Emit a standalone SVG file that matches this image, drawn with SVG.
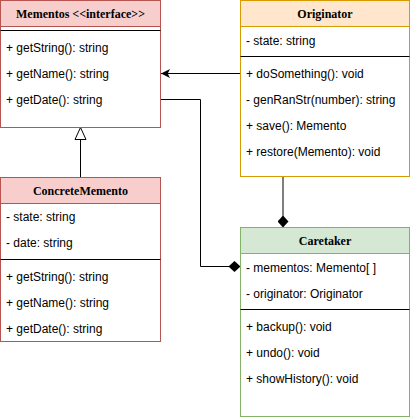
<svg xmlns="http://www.w3.org/2000/svg" width="411" height="418" viewBox="0 0 411 418">
<style>
.box{fill:#ffffff;}
.t{font-family:"Liberation Sans",Arial,sans-serif;font-size:12px;fill:#000000;}
.h{font-family:"Liberation Serif","Times New Roman",serif;font-size:12px;font-weight:bold;fill:#000000;text-anchor:middle;}
.sep{stroke:#000000;stroke-width:1;}
.red{stroke:#b85450;stroke-width:1;}
.org{stroke:#d79b00;stroke-width:1;}
.grn{stroke:#82b366;stroke-width:1;}
.c{fill:none;stroke:#000000;stroke-width:1;}
</style>
<defs>
<marker id="arrow" markerUnits="userSpaceOnUse" viewBox="0 0 10 10" refX="10" refY="5" markerWidth="10" markerHeight="9" orient="auto">
<path d="M0,0 L10,5 L0,10 L2.5,5 Z" fill="#000000"/>
</marker>
<marker id="diamond" markerUnits="userSpaceOnUse" viewBox="0 0 12 11" refX="12" refY="5.5" markerWidth="12" markerHeight="11" orient="auto">
<path d="M0,5.5 L6,0 L12,5.5 L6,11 Z" fill="#000000"/>
</marker>
<marker id="tri" markerUnits="userSpaceOnUse" viewBox="-1 -1 14 13" refX="12" refY="5.5" markerWidth="14" markerHeight="13" orient="auto">
<path d="M0,0 L12,5.5 L0,11 Z" fill="#ffffff" stroke="#000000" stroke-width="1"/>
</marker>
</defs>

<g id="connectors">
<path class="c" d="M240.5,73.5 H161" marker-end="url(#arrow)"/>
<path class="c" d="M160.5,99.5 H200.5 V266.5 H240.5" marker-end="url(#diamond)"/>
<path class="c" d="M283,177 V227.5" marker-end="url(#diamond)"/>
<path class="c" d="M80.5,177.5 V127.5" marker-end="url(#tri)"/>
</g>

<g id="mementos">
<rect class="box red" x="0.5" y="0.5" width="160" height="127"/>
<rect class="red" x="0.5" y="0.5" width="160" height="26" fill="#f8cecc"/>
<text class="h" x="80.5" y="17.5">Mementos &lt;&lt;interface&gt;&gt;</text>
<line class="sep" x1="0.5" y1="30.5" x2="160.5" y2="30.5"/>
<text class="t" x="6" y="51.5">+ getString(): string</text>
<text class="t" x="6" y="77.5">+ getName(): string</text>
<text class="t" x="6" y="103.5">+ getDate(): string</text>
</g>

<g id="originator">
<rect class="box org" x="240.5" y="0.5" width="169" height="176"/>
<rect class="org" x="240.5" y="0.5" width="169" height="26" fill="#ffe6cc"/>
<text class="h" x="325" y="17.5">Originator</text>
<text class="t" x="246" y="44.5">- state: string</text>
<line class="sep" x1="240.5" y1="56.5" x2="409.5" y2="56.5"/>
<text class="t" x="246" y="77.5">+ doSomething(): void</text>
<text class="t" x="246" y="103.5">- genRanStr(number): string</text>
<text class="t" x="246" y="129.5">+ save(): Memento</text>
<text class="t" x="246" y="155.5">+ restore(Memento): void</text>
</g>

<g id="concretememento">
<rect class="box red" x="0.5" y="177.5" width="160" height="164"/>
<rect class="red" x="0.5" y="177.5" width="160" height="26" fill="#f8cecc"/>
<text class="h" x="80.5" y="194.5">ConcreteMemento</text>
<text class="t" x="6" y="220.5">- state: string</text>
<text class="t" x="6" y="246.5">- date: string</text>
<line class="sep" x1="0.5" y1="259.5" x2="160.5" y2="259.5"/>
<text class="t" x="6" y="280.5">+ getString(): string</text>
<text class="t" x="6" y="306.5">+ getName(): string</text>
<text class="t" x="6" y="332.5">+ getDate(): string</text>
</g>

<g id="caretaker">
<rect class="box grn" x="240.5" y="227.5" width="169" height="189"/>
<rect class="grn" x="240.5" y="227.5" width="169" height="26" fill="#d5e8d4"/>
<text class="h" x="325" y="244.5">Caretaker</text>
<text class="t" x="246" y="271.5">- mementos: Memento[ ]</text>
<text class="t" x="246" y="297.5">- originator: Originator</text>
<line class="sep" x1="240.5" y1="309.5" x2="409.5" y2="309.5"/>
<text class="t" x="246" y="330.5">+ backup(): void</text>
<text class="t" x="246" y="356.5">+ undo(): void</text>
<text class="t" x="246" y="382.5">+ showHistory(): void</text>
</g>
</svg>
